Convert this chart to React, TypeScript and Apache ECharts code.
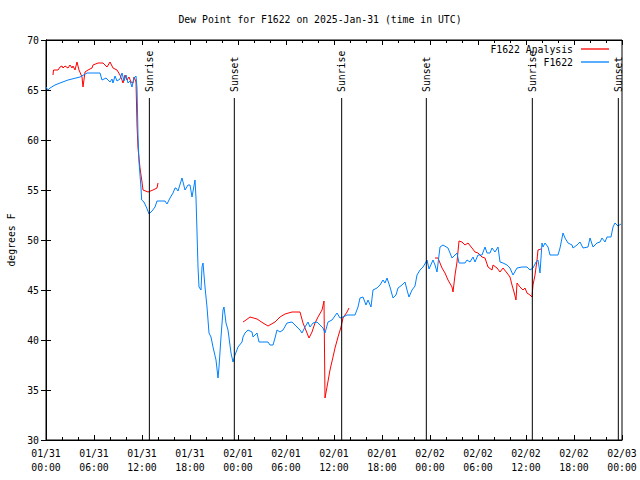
import React, { useEffect, useRef } from "react";
import * as echarts from "echarts";

const TITLE = "Dew Point for F1622 on 2025-Jan-31 (time in UTC)";
const Y_NAME = "degrees F";

// hours since 2025-01-31 00:00 UTC
const xTickLabels = [
  "01/31\n00:00", "01/31\n06:00", "01/31\n12:00", "01/31\n18:00",
  "02/01\n00:00", "02/01\n06:00", "02/01\n12:00", "02/01\n18:00",
  "02/02\n00:00", "02/02\n06:00", "02/02\n12:00", "02/02\n18:00",
  "02/03\n00:00",
];

const sunEventHours = [12.92, 23.54, 36.96, 47.54, 60.79, 71.54];
const sunEventLabels = ["Sunrise", "Sunset", "Sunrise", "Sunset", "Sunrise", "Sunset"];

const blueHours = [
  0, 0.25, 0.5, 1.125, 1.75, 2.75, 4.25, 5.125, 6.125, 6.75, 7, 7.5, 8, 8.25, 8.375, 8.625, 8.875,
  9.25, 9.5, 9.75, 10, 10.25, 10.5, 10.75, 11, 11.25, 11.375, 11.5, 11.625, 11.875, 11.96, 12.25,
  12.59, 12.875, 13.25, 13.625, 13.875, 14.875, 15.125, 15.5, 15.875, 16.125, 16.25, 16.5, 17,
  17.375, 17.75, 18, 18.25, 18.625, 18.75, 18.875, 19, 19.125, 19.375, 19.5, 19.625, 19.875,
  20.125, 20.375, 20.625, 20.875, 21.25, 21.5, 21.625, 21.875, 22.125, 22.25, 22.5, 22.75, 23.125,
  23.375, 23.625, 24, 24.5, 24.625, 24.875, 25.25, 25.75, 25.875, 26.375, 26.625, 27.125, 27.75,
  28, 28.375, 28.625, 28.875, 29.25, 29.625, 30.125, 30.75, 31.125, 31.75, 32, 32.375, 32.75, 33,
  33.375, 33.875, 34.25, 34.625, 34.875, 35.25, 35.75, 36.375, 36.75, 37.125, 37.625, 38.625, 39,
  39.25, 39.625, 40, 40.25, 40.625, 40.875, 41.375, 41.75, 42.125, 42.375, 42.625, 43, 43.375,
  43.75, 44, 44.5, 44.875, 45.125, 45.375, 45.75, 46.125, 46.375, 46.75, 47.125, 47.5, 47.625,
  47.875, 48.375, 48.625, 48.875, 49.25, 49.625, 50.25, 50.75, 51.375, 51.625, 52.375, 52.625, 53,
  53.375, 53.625, 54, 54.5, 54.875, 55.125, 55.5, 55.75, 56.125, 56.5, 56.75, 57.125, 57.625, 58,
  58.375, 58.875, 59.5, 60.125, 60.5, 60.875, 61.25, 61.5, 61.75, 62, 62.125, 62.375, 62.75, 63,
  64, 64.25, 64.625, 64.875, 65.25, 65.75, 65.875, 66.375, 66.75, 67.125, 67.75, 68, 68.375,
  68.875, 69.25, 69.5, 69.875, 70.125, 70.625, 70.875, 71.125, 71.5, 71.875,
];
const blueValues = [
  65.3, 65.0, 65.2, 65.5, 65.7, 66.0, 66.3, 66.7, 66.7, 66.7, 66.0, 66.2, 65.8, 66.1, 65.7, 66.4, 65.9,
  66.1, 66.7, 65.9, 66.5, 65.7, 65.9, 65.3, 66.2, 66.4, 65.2, 60.5, 57.8, 55.2, 54.0, 53.8,
  53.2, 52.6, 52.9, 53.3, 53.9, 53.9, 53.6, 54.2, 54.7, 55.2, 55.2, 54.9, 56.2,
  55.0, 55.5, 55.5, 54.3, 56.0, 54.2, 50.8, 47.3, 45.3, 45.0, 47.3, 47.7, 45.3,
  43.3, 40.7, 40.3, 39.3, 38.0, 36.2, 37.3, 40.3, 43.0, 43.3, 41.7, 41.0, 38.7,
  37.8, 38.5, 39.3, 39.8, 40.3, 40.7, 41.0, 40.8, 40.3, 40.7, 39.8, 39.8, 39.8,
  39.5, 39.5, 40.2, 41.0, 40.8, 41.0, 41.7, 41.8, 41.5, 41.0, 40.7, 41.3, 41.8, 41.3,
  41.7, 41.8, 41.5, 41.2, 40.7, 41.8, 42.0, 42.7, 42.2, 42.3, 42.5, 42.5, 43.3,
  44.2, 44.3, 43.5, 44.0, 43.3, 45.0, 45.2, 45.5, 46.0, 45.7, 46.2, 45.3, 44.2,
  44.5, 45.2, 45.5, 45.8, 45.0, 44.3, 45.0, 45.4, 46.5, 47.0, 47.3, 47.8, 48.0,
  47.1, 48.0, 47.5, 46.8, 49.3, 49.5, 49.2, 48.2, 48.7, 47.7, 47.7, 48.0, 47.8,
  48.3, 47.8, 48.5, 48.5, 49.3, 48.7, 48.7, 49.2, 48.8, 49.3, 47.8, 47.7, 47.5, 47.2,
  46.5, 47.2, 47.3, 47.3, 47.0, 47.2, 47.8, 48.0, 46.7, 49.7, 49.3, 49.7, 49.3, 48.5,
  48.5, 49.2, 50.7, 50.2, 49.7, 49.5, 49.2, 49.5, 49.8, 49.2, 49.3, 50.2, 49.3,
  49.7, 49.8, 50.2, 49.8, 50.3, 50.3, 51.3, 51.7, 51.4, 51.6,
];

const redSeg1Hours = [
  0.875, 0.94, 1.5, 1.75, 2, 2.125, 2.375, 2.75, 3, 3.25, 3.375, 3.625, 3.875, 4.125, 4.5, 4.625,
  4.875, 5.25, 5.75, 5.875, 6.5, 7.125, 7.625, 8, 8.375, 8.875, 9.25, 9.5, 9.625, 9.875, 10.125,
  10.375, 10.625, 10.875, 11, 11.25, 11.375, 11.5, 11.75, 12, 12.125, 12.75, 13.375, 13.875, 14,
];
const redSeg1Values = [
  66.5, 67.0, 67.0, 67.3, 67.4, 67.2, 67.4, 67.2, 67.5, 67.2, 67.4, 67.0, 67.8, 67.0, 66.3, 65.3,
  66.8, 67.0, 67.2, 67.5, 67.7, 67.7, 67.3, 67.8, 67.2, 67.0, 66.5, 66.0, 65.7, 66.5, 66.0,
  66.3, 65.8, 65.7, 66.3, 65.8, 61.5, 59.2, 57.2, 55.8, 55.0, 54.8, 55.0, 55.2, 55.7,
];
const redSeg2Hours = [
  24.625, 25, 25.5, 26.375, 27.125, 27.75, 28.625, 29.25, 29.875, 30.75, 31.75, 32.125, 32.625,
  32.875, 33.25, 33.625, 34, 34.5, 34.75, 34.875, 35.125, 35.5, 35.875, 36.125, 36.5, 36.875,
  37.125, 37.625, 37.875,
];
const redSeg2Values = [
  41.8, 42.0, 42.3, 42.1, 41.7, 41.4, 41.8, 42.3, 42.6, 42.8, 42.8, 41.7, 40.7,
  40.2, 40.8, 41.7, 42.3, 43.0, 43.9, 34.2, 35.3, 37.0, 38.3, 39.2, 40.3, 41.3,
  42.2, 42.8, 43.2,
];
const redSeg3Hours = [
  48.625, 49, 49.5, 49.875, 50.25, 50.75, 50.875, 51.125, 51.375, 51.625, 52, 52.375, 52.75,
  53.25, 53.625, 54, 54.5, 54.875, 55.25, 55.75, 55.875, 56.375, 56.75, 57.125, 57.625, 58,
  58.25, 58.5, 58.75, 58.875, 59.25, 59.625, 59.875, 60.125, 60.5, 60.75, 60.875, 61.125,
  61.375, 61.5, 61.875,
];
const redSeg3Values = [
  48.2, 48.2, 47.2, 46.7, 46.0, 45.3, 44.8, 46.5, 47.8, 49.9, 49.8, 49.5, 49.7,
  49.2, 48.8, 48.7, 48.3, 48.2, 47.3, 47.0, 47.5, 47.2, 46.8, 47.2, 46.7, 46.3,
  45.5, 44.8, 44.0, 45.7, 45.3, 45.0, 45.2, 44.7, 44.5, 44.3, 45.5, 46.5,
  48.0, 49.0, 49.1,
];

const FONT = "DejaVu Sans Mono";
const FS = 9.8;
const RED = "#ff0000";
const BLUE = "#0080ff";

const zip = (a: number[], b: number[]) => a.map((v, i) => [v, b[i]]);

export default function App() {
  const ref = useRef<HTMLDivElement>(null);
  useEffect(() => {
    if (!ref.current) return;
    const chart = echarts.init(ref.current, undefined, { renderer: "svg" });
    const textStyle = { fontFamily: FONT, fontSize: FS, color: "#000" };
    const redSeries = [
      [redSeg1Hours, redSeg1Values],
      [redSeg2Hours, redSeg2Values],
      [redSeg3Hours, redSeg3Values],
    ].map(([h, v]) => ({
      name: "F1622 Analysis",
      type: "line",
      data: zip(h, v),
      symbol: "none",
      showSymbol: false,
      lineStyle: { color: RED, width: 1 },
      itemStyle: { color: RED },
      z: 3,
    }));
    chart.setOption({
      animation: false,
      backgroundColor: "#fff",
      textStyle,
      title: {
        text: TITLE,
        left: "center",
        top: 9,
        textStyle: { fontFamily: FONT, fontSize: FS, fontWeight: "normal", color: "#000" },
      },
      legend: {
        data: [
          { name: "F1622 Analysis", icon: "rect", itemStyle: { color: RED } },
          { name: "F1622", icon: "rect", itemStyle: { color: BLUE } },
        ],
        orient: "vertical",
        right: 31,
        top: 43,
        padding: 0,
        align: "right",
        itemWidth: 28,
        itemHeight: 1.3,
        itemGap: 1,
        textStyle: { fontFamily: FONT, fontSize: FS, color: "#000", lineHeight: 12, padding: [0, 3, 0, 0] },
      },
      grid: {
        left: 46,
        right: 18,
        top: 40,
        bottom: 40,
        show: true,
        borderColor: "#000",
        borderWidth: 1,
        backgroundColor: "transparent",
        containLabel: false,
        outerBoundsMode: "none",
      },
      xAxis: [
        {
          type: "value",
          min: 0,
          max: 72,
          interval: 6,
          axisLine: { show: true, lineStyle: { color: "#000", width: 1 } },
          axisTick: { show: true, inside: true, length: 5, lineStyle: { color: "#000" } },
          minorTick: { show: true, splitNumber: 3, length: 3, lineStyle: { color: "#000" } },
          splitLine: { show: false },
          axisLabel: {
            margin: 6,
            fontFamily: FONT,
            fontSize: FS,
            color: "#000",
            lineHeight: 14,
            formatter: (v: number) => xTickLabels[Math.round(v / 6)] ?? "",
          },
        },
        {
          type: "value",
          position: "top",
          min: 0,
          max: 72,
          interval: 6,
          axisLine: { show: true, lineStyle: { color: "#000", width: 1 } },
          axisTick: { show: true, inside: true, length: 5, lineStyle: { color: "#000" } },
          minorTick: { show: true, splitNumber: 3, length: 3, lineStyle: { color: "#000" } },
          splitLine: { show: false },
          axisLabel: { show: false },
        },
      ],
      yAxis: [
        {
          type: "value",
          min: 30,
          max: 70,
          interval: 5,
          name: Y_NAME,
          nameLocation: "middle",
          nameGap: 30,
          nameRotate: 90,
          nameTextStyle: { fontFamily: FONT, fontSize: FS, color: "#000" },
          axisLine: { show: true, lineStyle: { color: "#000", width: 1 } },
          axisTick: { show: true, inside: true, length: 5, lineStyle: { color: "#000" } },
          splitLine: { show: false },
          axisLabel: { margin: 7, fontFamily: FONT, fontSize: FS, color: "#000" },
        },
        {
          type: "value",
          position: "right",
          min: 30,
          max: 70,
          interval: 5,
          axisLine: { show: true, lineStyle: { color: "#000", width: 1 } },
          axisTick: { show: true, inside: true, length: 5, lineStyle: { color: "#000" } },
          splitLine: { show: false },
          axisLabel: { show: false },
        },
      ],
      series: [
        {
          name: "sun",
          type: "custom",
          data: sunEventHours.map((h) => [h, 30]),
          encode: { x: 0, y: 1 },
          silent: true,
          z: 5,
          renderItem: (params: any, api: any) => {
            const h = api.value(0);
            const b = api.coord([h, 30]);
            const t = api.coord([h, 64.2]);
            const p = api.coord([h, 64.8]);
            return {
              type: "group",
              children: [
                {
                  type: "line",
                  shape: { x1: b[0], y1: b[1], x2: t[0], y2: t[1] },
                  style: { stroke: "#000", lineWidth: 1 },
                },
                {
                  type: "text",
                  x: p[0],
                  y: p[1],
                  rotation: Math.PI / 2,
                  style: {
                    text: sunEventLabels[params.dataIndex],
                    fontFamily: FONT,
                    fontSize: FS,
                    fill: "#000",
                    align: "left",
                    verticalAlign: "middle",
                  },
                },
              ],
            };
          },
        },
        ...redSeries,
        {
          name: "F1622",
          type: "line",
          data: zip(blueHours, blueValues),
          symbol: "none",
          showSymbol: false,
          lineStyle: { color: BLUE, width: 1 },
          itemStyle: { color: BLUE },
          z: 4,
        },
      ],
    });
    return () => chart.dispose();
  }, []);
  return <div ref={ref} style={{ width: 640, height: 480, position: "absolute", left: 0, top: 0 }} />;
}
